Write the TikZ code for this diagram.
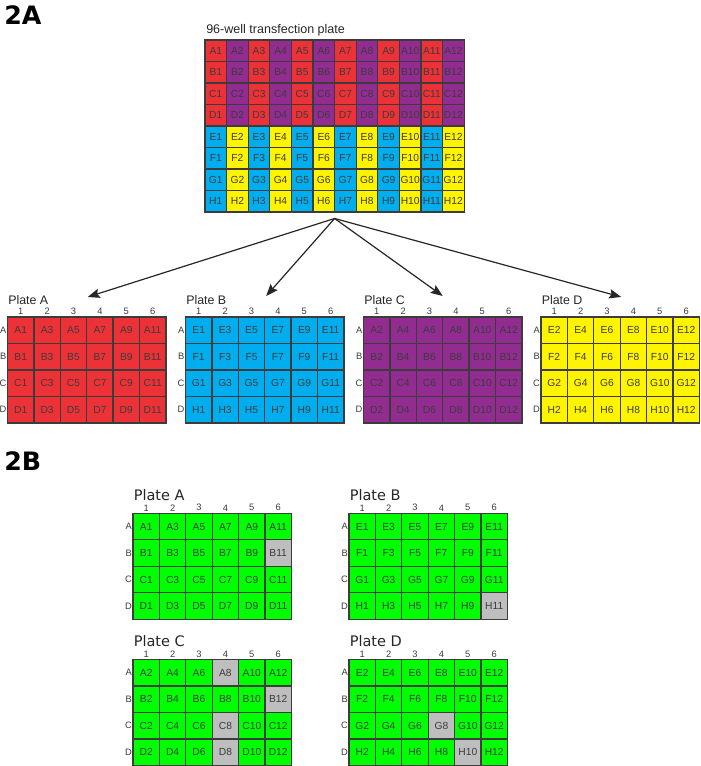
\documentclass[tikz,border=0pt]{standalone}
\usepackage{fontspec}
\setmainfont{Liberation Sans}
\newfontfamily\dejavu{DejaVu Sans}
\usetikzlibrary{calc, positioning, arrows.meta}

\definecolor{wellred}{RGB}{237,50,55}
\definecolor{wellpurple}{RGB}{146,44,145}
\definecolor{wellblue}{RGB}{0,174,239}
\definecolor{wellyellow}{RGB}{255,244,0}
\definecolor{wellgreen}{RGB}{0,255,0}
\definecolor{wellgray}{RGB}{190,190,190}
\definecolor{wellline}{RGB}{60,60,60}
\definecolor{welltext}{RGB}{60,60,60}

\tikzset{
  well/.style={draw=wellline, line width=1pt, inner sep=0pt, outer sep=0pt,
    text=welltext, font=\fontsize{7.7}{9}\selectfont},
  topwell/.style={well, minimum width=16.2pt, minimum height=16.1pt},
  platewell/.style={well, minimum width=19.8pt, minimum height=19.9pt},
  collabel/.style={inner sep=0pt, text=welltext, font=\fontsize{7}{8}\selectfont},
  rowlabel/.style={collabel, anchor=east},
  platetitle/.style={inner sep=0pt, anchor=base west, text=black!85, font=\fontsize{9.3}{11}\selectfont},
  newtitle/.style={platetitle, font=\dejavu\fontsize{10.9}{13}\selectfont},
  panel/.style={inner sep=0pt, anchor=base west, font=\dejavu\bfseries\fontsize{19}{22}\selectfont},
  fanarrow/.style={draw=black!85, line width=0.9pt, -{Stealth[length=9pt, width=7pt, inset=1.5pt]}}
}

% grey wells of the second panel
\newcommand{\markgray}[2]{\expandafter\def\csname gray@#1@#2\endcsname{}}

% 6x4 plate: name, left, top, row letter/source row, number offset, fill
\newcommand{\subplate}[6]{%
  \foreach \lt/\src [count=\rr] in {#4} {
    \node[rowlabel] (#1-row\lt) at ({#2-0.8}, {#3+(\rr-0.5)*26.5}) {\lt};
    \foreach \cc in {1,...,6} {
      \pgfmathtruncatemacro{\num}{2*\cc-1+#5}
      \ifcsname gray@#1@\lt\cc\endcsname\def\wfill{wellgray}\else\def\wfill{#6}\fi
      \node[platewell, fill=\wfill] (#1-\lt\cc) at ({#2+(\cc-0.5)*26.4}, {#3+(\rr-0.5)*26.5}) {\src\num};
    }
  }
  \foreach \cc in {1,...,6}
    \node[collabel, above=1.5pt of #1-A\cc.north] (#1-col\cc) {\cc};
}

\begin{document}
\begin{tikzpicture}[x=0.75pt, y=-0.75pt]
\useasboundingbox (0,0) rectangle (700,766);

% panel labels
\node[panel] (lab2A) at (4,24.5) {2A};
\node[panel] (lab2B) at (4,470.5) {2B};

% 96-well plate
\node[platetitle, font=\fontsize{9.4}{11}\selectfont] (top-title) at (206,33.3) {96-well transfection plate};
\foreach \lt [count=\rr] in {A,...,H} {
  \foreach \cc in {1,...,12} {
    \ifnum\rr<5
      \ifodd\cc \def\wfill{wellred}\else\def\wfill{wellpurple}\fi
    \else
      \ifodd\cc \def\wfill{wellblue}\else\def\wfill{wellyellow}\fi
    \fi
    \node[topwell, fill=\wfill] (top-\lt\cc) at ({205+(\cc-0.5)*21.6}, {40+(\rr-0.5)*21.5}) {\lt\cc};
  }
}

% four daughter plates
\node[platetitle] (pA-title) at (8,304) {Plate A};
\node[platetitle] (pB-title) at (186,304) {Plate B};
\node[platetitle] (pC-title) at (364,304) {Plate C};
\node[platetitle] (pD-title) at (541.5,304) {Plate D};
\subplate{pA}{7.5}{317}{A/A,B/B,C/C,D/D}{0}{wellred}
\subplate{pB}{185.5}{317}{A/E,B/F,C/G,D/H}{0}{wellblue}
\subplate{pC}{363.5}{317}{A/A,B/B,C/C,D/D}{1}{wellpurple}
\subplate{pD}{541}{317}{A/E,B/F,C/G,D/H}{1}{wellyellow}

% arrows
\coordinate (src) at ($(top-H6.south east)+(0,6.5)$);
\coordinate (tipA) at ($(pA-A3.north east)+(1,-20)$);
\coordinate (tipB) at ($(pB-A3.north east)+(1.5,-21)$);
\coordinate (tipC) at ($(pC-A3.north east)+(0,-21)$);
\coordinate (tipD) at ($(pD-A3.north east)+(1,-20)$);
\foreach \p in {A,B,C,D}
  \draw[fanarrow] (src) -- (tip\p);

% transfection result
\markgray{qA}{B6}
\markgray{qB}{D6}
\markgray{qC}{A4}\markgray{qC}{B6}\markgray{qC}{C4}\markgray{qC}{D4}
\markgray{qD}{C4}\markgray{qD}{D5}
\node[newtitle] (qA-title) at (133.5,500) {Plate A};
\node[newtitle] (qB-title) at (349.5,500) {Plate B};
\node[newtitle] (qC-title) at (133.5,646.5) {Plate C};
\node[newtitle] (qD-title) at (349.5,646.5) {Plate D};
\subplate{qA}{133}{513.3}{A/A,B/B,C/C,D/D}{0}{wellgreen}
\subplate{qB}{349}{513.3}{A/E,B/F,C/G,D/H}{0}{wellgreen}
\subplate{qC}{133}{659.5}{A/A,B/B,C/C,D/D}{1}{wellgreen}
\subplate{qD}{349}{659.5}{A/E,B/F,C/G,D/H}{1}{wellgreen}

\end{tikzpicture}
\end{document}
